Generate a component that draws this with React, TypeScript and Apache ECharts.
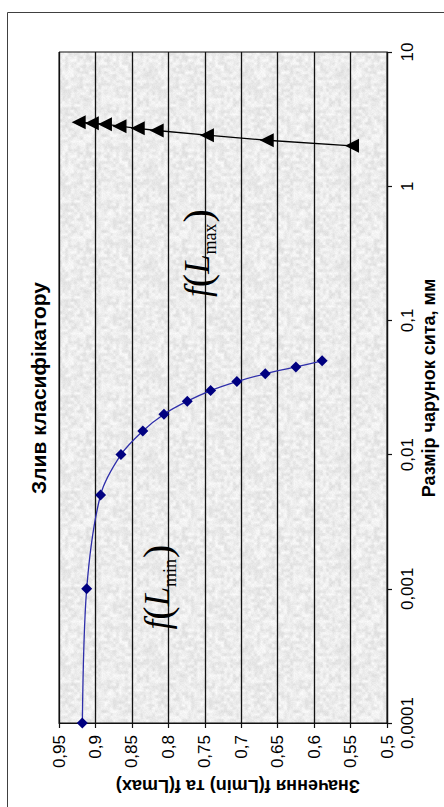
import React, { useEffect, useRef } from "react";
import * as echarts from "echarts";

// Sieve mesh size, mm (vertical log axis)
const sizesMin = [0.0001, 0.001, 0.005, 0.01, 0.015, 0.02, 0.025, 0.03, 0.035, 0.04, 0.045, 0.05];
const valuesMin = [0.918, 0.912, 0.893, 0.865, 0.835, 0.806, 0.774, 0.742, 0.706, 0.667, 0.625, 0.589];

const sizesMax = [3.0, 2.95, 2.9, 2.8, 2.7, 2.6, 2.4, 2.2, 2.0];
const valuesMax = [0.923, 0.905, 0.887, 0.867, 0.842, 0.816, 0.747, 0.665, 0.548];

const valueTicks = { min: 0.5, max: 0.95, step: 0.05 };
const sizeTicks = { min: 0.0001, max: 10 };

const titleText = "Злив класифікатору";
const sizeAxisName = "Размір чарунок сита, мм";
const valueAxisName = "Значення f(Lmin) та f(Lmax)";

const SANS = "'Liberation Sans', Arial, sans-serif";
const SERIF = "'Liberation Serif', 'Times New Roman', serif";

function fmtValue(v: number): string {
  return String(+v.toFixed(2)).replace(".", ",");
}

function fmtSize(v: number): string {
  const e = Math.round(Math.log10(v));
  if (e >= 0) return String(Math.pow(10, e));
  return "0," + "0".repeat(-e - 1) + "1";
}

// Granite-like grey fill for the plot area, built from a hashed value-noise
function graniteTexture(): HTMLCanvasElement {
  const N = 96;
  const c = document.createElement("canvas");
  c.width = N;
  c.height = N;
  const ctx = c.getContext("2d")!;
  const img = ctx.createImageData(N, N);
  const hash = (x: number, y: number) => {
    const s = Math.sin(x * 127.1 + y * 311.7) * 43758.5453;
    return s - Math.floor(s);
  };
  const cell = 3;
  const G = N / cell;
  const lattice = (i: number, j: number) => hash(((i % G) + G) % G, ((j % G) + G) % G);
  const smooth = (t: number) => t * t * (3 - 2 * t);
  for (let y = 0; y < N; y++) {
    for (let x = 0; x < N; x++) {
      const gx = x / cell;
      const gy = y / cell;
      const i = Math.floor(gx);
      const j = Math.floor(gy);
      const tx = smooth(gx - i);
      const ty = smooth(gy - j);
      const a = lattice(i, j);
      const b = lattice(i + 1, j);
      const cc = lattice(i, j + 1);
      const d = lattice(i + 1, j + 1);
      const n = (a * (1 - tx) + b * tx) * (1 - ty) + (cc * (1 - tx) + d * tx) * ty;
      const fine = hash(x + 0.5, y + 0.25);
      const g = Math.round(219 + n * 26 + fine * 8);
      const k = (y * N + x) * 4;
      img.data[k] = g;
      img.data[k + 1] = g;
      img.data[k + 2] = g;
      img.data[k + 3] = 255;
    }
  }
  ctx.putImageData(img, 0, 0);
  return c;
}

function fLabel(sub: string, x: number, y: number) {
  return {
    type: "text",
    x,
    y,
    rotation: Math.PI / 2,
    style: {
      text: `{f|f}{p|(}{L|L}{s|${sub}}{p|)}`,
      align: "center",
      verticalAlign: "middle",
      rich: {
        f: { fontFamily: SERIF, fontStyle: "italic", fontSize: 35, lineHeight: 44, fill: "#000" },
        p: { fontFamily: SERIF, fontSize: 40, lineHeight: 44, fill: "#000" },
        L: { fontFamily: SERIF, fontStyle: "italic", fontSize: 35, lineHeight: 44, fill: "#000" },
        s: { fontFamily: SERIF, fontSize: 18, lineHeight: 18, verticalAlign: "bottom", fill: "#000", padding: [0, 1, 0, 0] },
      },
    },
    z: 50,
  };
}

export default function App() {
  const ref = useRef<HTMLDivElement>(null);

  useEffect(() => {
    if (!ref.current) return;
    const chart = echarts.init(ref.current, undefined, { renderer: "svg" });
    const tex = graniteTexture();

    const option: any = {
      animation: false,
      backgroundColor: "#ffffff",
      grid: {
        left: 59,
        right: 57,
        top: 52,
        bottom: 84,
        show: true,
        borderColor: "#111",
        borderWidth: 1,
        backgroundColor: { image: tex, repeat: "repeat", imageWidth: tex.width, imageHeight: tex.height },
      },
      xAxis: {
        type: "value",
        inverse: true,
        min: valueTicks.min,
        max: valueTicks.max,
        interval: valueTicks.step,
        axisLine: { show: true, lineStyle: { color: "#111", width: 1.2 } },
        axisTick: { show: true, length: 5, lineStyle: { color: "#111", width: 1.2 } },
        splitLine: { show: true, lineStyle: { color: "#111", width: 1.3 } },
        axisLabel: {
          rotate: 90,
          margin: 12,
          fontSize: 17,
          fontFamily: SANS,
          color: "#000",
          formatter: (v: number) => fmtValue(v),
        },
      },
      yAxis: {
        type: "log",
        logBase: 10,
        position: "right",
        min: sizeTicks.min,
        max: sizeTicks.max,
        axisLine: { show: true, lineStyle: { color: "#111", width: 1.2 } },
        axisTick: { show: true, length: 5, lineStyle: { color: "#111", width: 1.2 } },
        minorTick: { show: false },
        splitLine: { show: false },
        axisLabel: {
          rotate: 90,
          margin: 12,
          fontSize: 17,
          fontFamily: SANS,
          color: "#000",
          formatter: (v: number) => fmtSize(v),
        },
      },
      series: [
        {
          name: "f(Lmin)",
          type: "line",
          smooth: 0.3,
          data: valuesMin.map((v, i) => [v, sizesMin[i]]),
          symbol: "diamond",
          symbolSize: 11,
          itemStyle: { color: "#000080" },
          lineStyle: { color: "#2e2eaa", width: 1.3 },
          z: 5,
        },
        {
          name: "f(Lmax)",
          type: "line",
          data: valuesMax.map((v, i) => [v, sizesMax[i]]),
          symbol: "triangle",
          symbolRotate: 90,
          symbolSize: 14,
          itemStyle: { color: "#000" },
          lineStyle: { color: "#000", width: 1.3 },
          z: 5,
        },
      ],
      graphic: [
        {
          type: "rect",
          shape: { x: 7.5, y: 12.5, width: 460, height: 820 },
          style: { fill: "none", stroke: "#404040", lineWidth: 1 },
          silent: true,
          z: -1,
        },
        {
          type: "text",
          x: 38,
          y: 388,
          rotation: Math.PI / 2,
          style: {
            text: titleText,
            align: "center",
            verticalAlign: "middle",
            font: `bold 21px ${SANS}`,
            fill: "#000",
          },
        },
        {
          type: "text",
          x: 429,
          y: 388,
          rotation: Math.PI / 2,
          style: {
            text: sizeAxisName,
            align: "center",
            verticalAlign: "middle",
            font: `bold 18px ${SANS}`,
            fill: "#000",
          },
        },
        {
          type: "text",
          x: 238,
          y: 786,
          rotation: Math.PI,
          style: {
            text: valueAxisName,
            align: "center",
            verticalAlign: "middle",
            font: `bold 18px ${SANS}`,
            fill: "#000",
          },
        },
        fLabel("min", 157, 587),
        fLabel("max", 197, 253),
      ],
    };

    chart.setOption(option);
    return () => chart.dispose();
  }, []);

  return (
    <div
      ref={ref}
      style={{ position: "fixed", left: 0, top: 0, width: 444, height: 807 }}
    />
  );
}
